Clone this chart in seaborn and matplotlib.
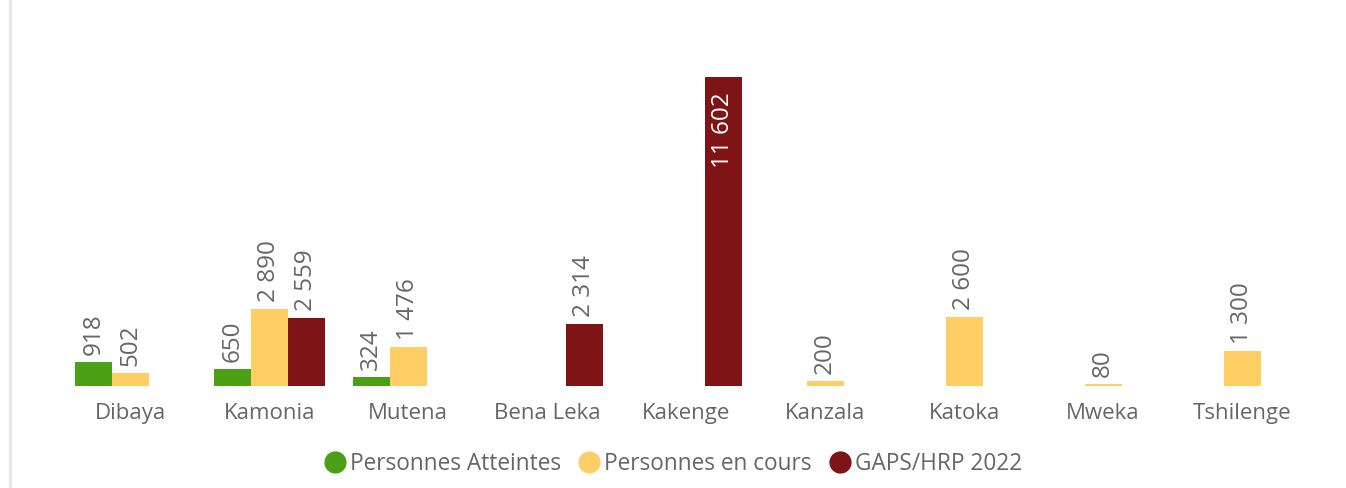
import numpy as np
import pandas as pd
import matplotlib
matplotlib.use("Agg")
import matplotlib.pyplot as plt
from matplotlib.lines import Line2D
import seaborn as sns

categories = ["Dibaya", "Kamonia", "Mutena", "Bena Leka", "Kakenge",
              "Kanzala", "Katoka", "Mweka", "Tshilenge"]
series = ["Personnes Atteintes", "Personnes en cours", "GAPS/HRP 2022"]
atteintes = [918, 650, 324, np.nan, np.nan, np.nan, np.nan, np.nan, np.nan]
en_cours = [502, 2890, 1476, np.nan, np.nan, 200, 2600, 80, 1300]
gaps = [np.nan, 2559, np.nan, 2314, 11602, np.nan, np.nan, np.nan, np.nan]
colors = ["#4CA015", "#FFCF66", "#7E1416"]

rows = []
for s, vals in zip(series, [atteintes, en_cours, gaps]):
    for c, v in zip(categories, vals):
        if not np.isnan(v):
            rows.append({"cat": c, "serie": s, "val": v})
df = pd.DataFrame(rows)

sns.set_theme(style="white")
plt.rcParams["font.family"] = ["Open Sans", "DejaVu Sans"]

fig = plt.figure(figsize=(13.46, 4.88), dpi=100)
W, H = 1346, 488
ax = fig.add_axes([61 / W, (H - 386) / H, (1311.5 - 61) / W, (386 - 40) / H])

sns.barplot(data=df, x="cat", y="val", hue="serie", order=categories,
            hue_order=series, palette=colors, width=0.8, saturation=1,
            ax=ax, legend=False, edgecolor="none", linewidth=0)

ax.set_ylim(0, 11602 * 346 / 309)
ax.set_xlim(-0.5, len(categories) - 0.5)
ax.set_xlabel("")
ax.set_ylabel("")
ax.set_yticks([])
for sp in ax.spines.values():
    sp.set_visible(False)
ax.tick_params(axis="x", length=0, pad=12, labelsize=16, labelcolor="#666666")

def fmt(v):
    return f"{int(round(v)):,}".replace(",", " ")

for cont in ax.containers:
    for bar in cont:
        h = bar.get_height()
        if h is None or np.isnan(h) or h <= 0:
            continue
        xc = bar.get_x() + bar.get_width() / 2
        if h > 8000:
            ax.annotate(fmt(h), (xc, h), xytext=(0, -11), textcoords="offset points",
                        rotation=90, ha="center", va="top", fontsize=17.5, color="white")
        else:
            ax.annotate(fmt(h), (xc, h), xytext=(0, 5), textcoords="offset points",
                        rotation=90, ha="center", va="bottom", fontsize=17.5, color="#666666")

handles = [Line2D([0], [0], marker="o", linestyle="none", markersize=15,
                  markerfacecolor=c, markeredgecolor=c) for c in colors]
fig.legend(handles, series, loc="center", bbox_to_anchor=(0.5, (H - 464) / H),
           ncol=3, frameon=False, fontsize=16.3, labelcolor="#666666",
           handletextpad=0.15, columnspacing=0.75, handlelength=1.0)

fig.add_artist(Line2D([9.5 / W, 9.5 / W], [0, 1], color="#e6e6e6", linewidth=2,
                      transform=fig.transFigure))

fig.savefig("out.png", dpi=100, facecolor="white")
